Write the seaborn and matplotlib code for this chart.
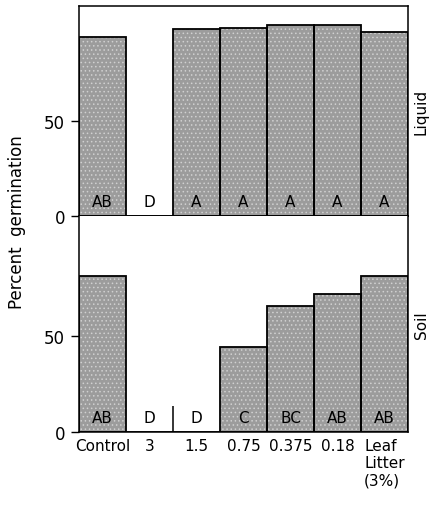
import matplotlib
matplotlib.use("Agg")
import numpy as np
import pandas as pd
import matplotlib.pyplot as plt
import seaborn as sns

# ── data ──────────────────────────────────────────────────────────────────────
categories = ["Control", "3", "1.5", "0.75", "0.375", "0.18", "Leaf\nLitter\n(3%)"]
liquid = [94.6, 0, 98.9, 99.2, 101.0, 101.2, 97.1]
soil = [80.9, 0, 0, 44.2, 65.3, 71.4, 80.9]
liquid_letters = ["AB", "D", "A", "A", "A", "A", "A"]
soil_letters = ["AB", "D", "D", "C", "BC", "AB", "AB"]
yticks = [0, 50]

sns.set_style("ticks")
plt.rcParams["font.family"] = ["DejaVu Sans"]
plt.rcParams["hatch.linewidth"] = 0.6
plt.rcParams["text.color"] = "black"
plt.rcParams["xtick.color"] = "black"
plt.rcParams["ytick.color"] = "black"
plt.rcParams["axes.labelcolor"] = "black"

df = pd.DataFrame({"treatment": categories, "Liquid": liquid, "Soil": soil})

fig = plt.figure(figsize=(4.31, 5.06), dpi=100)
ax_top = fig.add_axes([0.1833, 0.5711, 0.7633, 0.4151])
ax_bot = fig.add_axes([0.1833, 0.1443, 0.7633, 0.4268])

bar_face = "#9c9c9c"


def draw_panel(ax, col, letters, ymax):
    # textured fill first, then black outlines on top
    sns.barplot(data=df, x="treatment", y=col, order=categories, ax=ax,
                color=bar_face, saturation=1, width=1.0, linewidth=0,
                hatch="....", edgecolor="#d0d0d0", errorbar=None)
    sns.barplot(data=df, x="treatment", y=col, order=categories, ax=ax,
                fill=False, width=1.0, linewidth=1.3, edgecolor="black",
                errorbar=None)
    for i, lab in enumerate(letters):
        ax.text(i, 3.5, lab, ha="center", va="bottom", fontsize=11,
                color="black")
    ax.set_xlim(-0.5, len(categories) - 0.5)
    ax.set_ylim(0, ymax)
    ax.set_yticks(yticks)
    ax.set_xlabel("")
    ax.set_ylabel("")
    for s in ax.spines.values():
        s.set_linewidth(1.1)
        s.set_color("black")
    ax.tick_params(axis="y", direction="out", length=6, width=1.0,
                   labelsize=12, pad=4)
    ax.text(1.018, 0.5, col, transform=ax.transAxes, rotation=90,
            ha="left", va="center", fontsize=11)


draw_panel(ax_top, "Liquid", liquid_letters, 111)
draw_panel(ax_bot, "Soil", soil_letters, 112)

ax_top.tick_params(axis="x", length=0, labelbottom=False)
ax_bot.spines["top"].set_visible(False)
ax_bot.tick_params(axis="x", length=0, labelsize=11, pad=4)
for t in ax_bot.get_xticklabels():
    t.set_va("top")
    t.set_ha("center")
    t.set_multialignment("left")

# divider between the two highest concentrations in the soil panel
ax_bot.vlines(1.5, 0, 13.5, color="black", linewidth=1.1)

fig.text(0.04, 0.561, "Percent  germination", rotation=90, ha="center",
         va="center", fontsize=12)

fig.savefig("out.png", dpi=100)
